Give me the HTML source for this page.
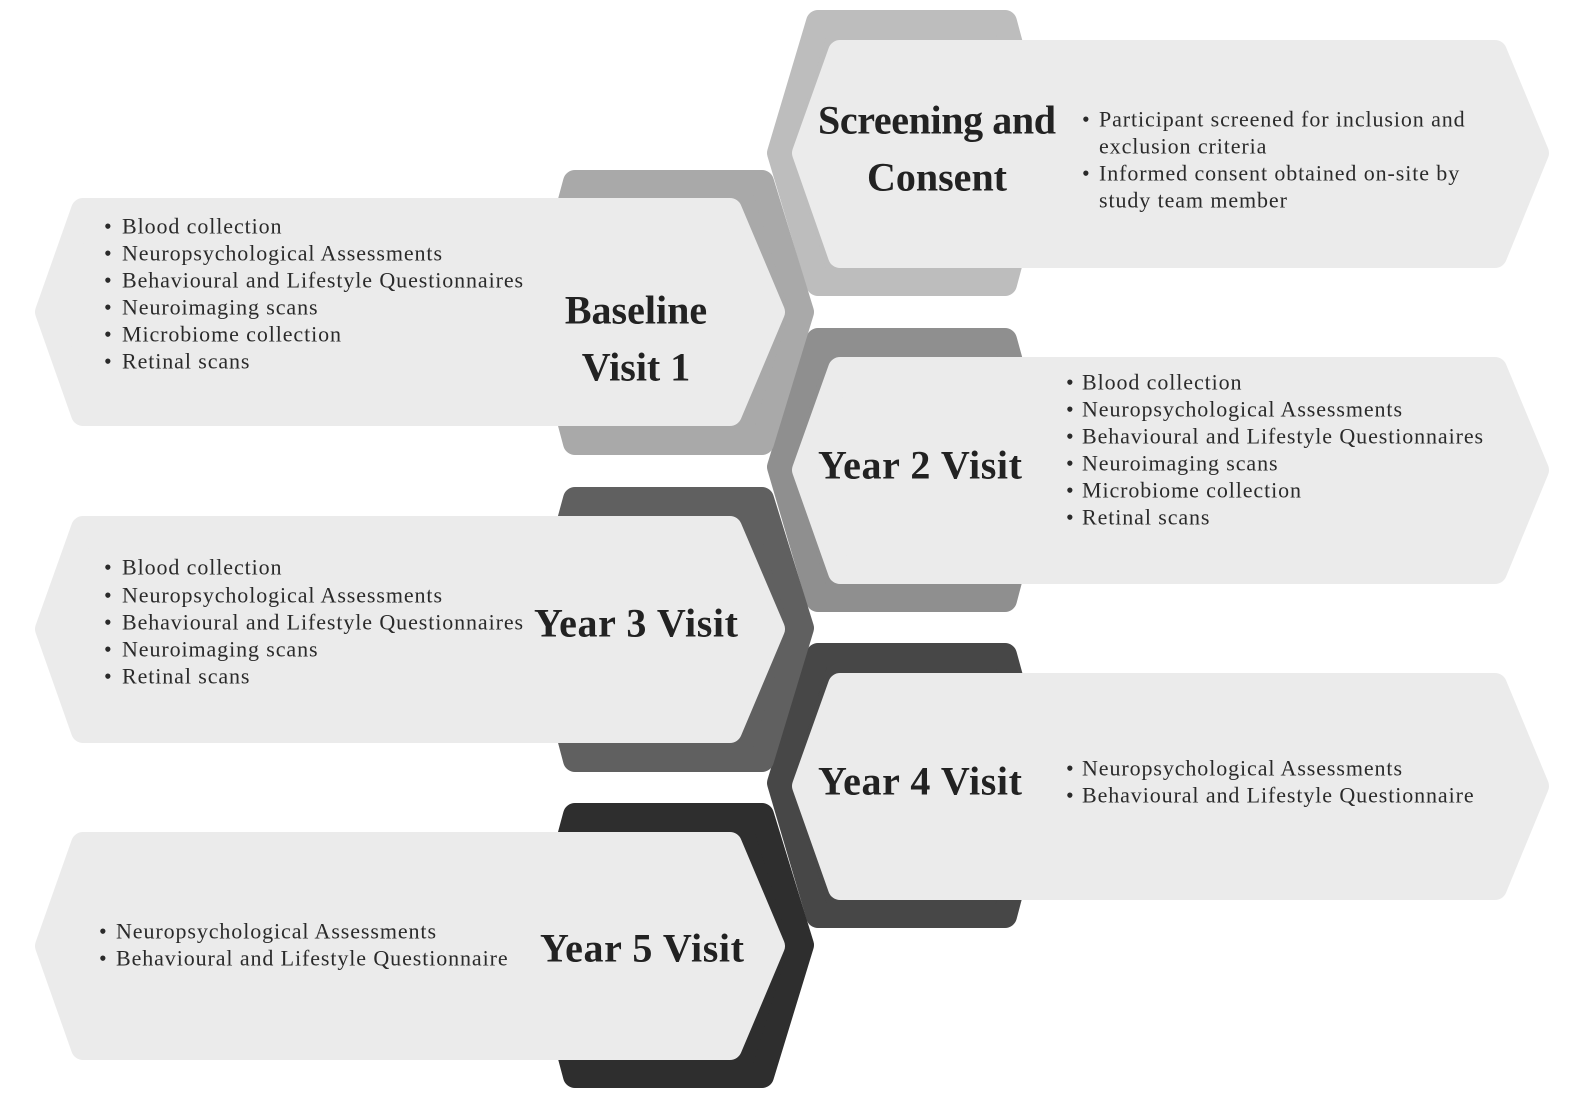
<!DOCTYPE html>
<html><head><meta charset="utf-8"><style>
html,body{margin:0;padding:0;background:#fff}
svg{display:block}
.t{font-family:"Liberation Serif",serif;font-weight:bold;font-size:40px;fill:#222}
.b{font-family:"Liberation Serif",serif;font-size:22px;letter-spacing:0.9px;fill:#2a2a2a}
</style></head><body>
<svg width="1578" height="1110" viewBox="0 0 1578 1110" xmlns="http://www.w3.org/2000/svg">
<g stroke-linejoin="round" stroke-width="24">
<polygon points="779,153 818,22 1005,22 1040,153 1005,284 818,284" fill="#bdbdbd" stroke="#bdbdbd"/>
<polygon points="779,467 818,340 1005,340 1040,467 1005,600 818,600" fill="#8f8f8f" stroke="#8f8f8f"/>
<polygon points="779,783 818,655 1005,655 1040,783 1005,916 818,916" fill="#474747" stroke="#474747"/>
<polygon points="802,312 762,182 575,182 540,312 575,443 762,443" fill="#a9a9a9" stroke="#a9a9a9"/>
<polygon points="802,628 762,499 575,499 540,628 575,760 762,760" fill="#606060" stroke="#606060"/>
<polygon points="802,945 762,815 575,815 540,945 575,1076 762,1076" fill="#2e2e2e" stroke="#2e2e2e"/>
<g fill="#ebebeb" stroke="#ebebeb">
<polygon points="804,153 840,52 1495,52 1537,153 1495,256 840,256"/>
<polygon points="804,470 840,369 1495,369 1537,470 1495,572 840,572"/>
<polygon points="804,786 840,685 1495,685 1537,786 1495,888 840,888"/>
<polygon points="47,312 83,210 730,210 773,312 730,414 83,414"/>
<polygon points="47,629 83,528 730,528 773,629 730,731 83,731"/>
<polygon points="47,946 83,844 730,844 773,946 730,1048 83,1048"/>
</g>
</g>
<g class="t" text-anchor="middle" dominant-baseline="central">
<text x="937" y="120" textLength="238">Screening and</text>
<text x="937" y="177">Consent</text>
<text x="636" y="310">Baseline</text>
<text x="636" y="367">Visit 1</text>
<text x="920" y="465" textLength="204">Year 2 Visit</text>
<text x="636" y="623" textLength="204">Year 3 Visit</text>
<text x="920" y="781" textLength="204">Year 4 Visit</text>
<text x="642" y="948" textLength="204">Year 5 Visit</text>
</g>
<g class="b" dominant-baseline="central">
<g>
<text x="1082" y="119">•</text><text x="1099" y="119">Participant screened for inclusion and</text>
<text x="1099" y="146">exclusion criteria</text>
<text x="1082" y="173">•</text><text x="1099" y="173">Informed consent obtained on-site by</text>
<text x="1099" y="200">study team member</text>
</g>
<g>
<text x="104" y="226">•</text><text x="122" y="226">Blood collection</text>
<text x="104" y="253">•</text><text x="122" y="253">Neuropsychological Assessments</text>
<text x="104" y="280">•</text><text x="122" y="280">Behavioural and Lifestyle Questionnaires</text>
<text x="104" y="307">•</text><text x="122" y="307">Neuroimaging scans</text>
<text x="104" y="334">•</text><text x="122" y="334">Microbiome collection</text>
<text x="104" y="361">•</text><text x="122" y="361">Retinal scans</text>
</g>
<g>
<text x="1066" y="382">•</text><text x="1082" y="382">Blood collection</text>
<text x="1066" y="409">•</text><text x="1082" y="409">Neuropsychological Assessments</text>
<text x="1066" y="436">•</text><text x="1082" y="436">Behavioural and Lifestyle Questionnaires</text>
<text x="1066" y="463">•</text><text x="1082" y="463">Neuroimaging scans</text>
<text x="1066" y="490">•</text><text x="1082" y="490">Microbiome collection</text>
<text x="1066" y="517">•</text><text x="1082" y="517">Retinal scans</text>
</g>
<g>
<text x="104" y="567">•</text><text x="122" y="567">Blood collection</text>
<text x="104" y="595">•</text><text x="122" y="595">Neuropsychological Assessments</text>
<text x="104" y="622">•</text><text x="122" y="622">Behavioural and Lifestyle Questionnaires</text>
<text x="104" y="649">•</text><text x="122" y="649">Neuroimaging scans</text>
<text x="104" y="676">•</text><text x="122" y="676">Retinal scans</text>
</g>
<g>
<text x="1066" y="768">•</text><text x="1082" y="768">Neuropsychological Assessments</text>
<text x="1066" y="795">•</text><text x="1082" y="795">Behavioural and Lifestyle Questionnaire</text>
</g>
<g>
<text x="99" y="931">•</text><text x="116" y="931">Neuropsychological Assessments</text>
<text x="99" y="958">•</text><text x="116" y="958">Behavioural and Lifestyle Questionnaire</text>
</g>
</g>
</svg>
</body></html>
